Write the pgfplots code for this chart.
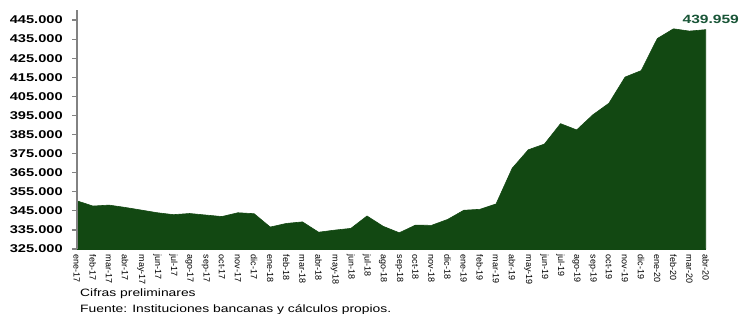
\documentclass[border=0pt]{standalone}
\usepackage{pgfplots}
\pgfplotsset{compat=1.18}
\usepackage{fontspec}
\setmainfont{Liberation Sans}
\newfontfamily\wideF[FakeStretch=1.3]{Liberation Sans}
\definecolor{areagreen}{RGB}{18,72,18}
\definecolor{labgreen}{RGB}{25,85,55}
\definecolor{axgray}{RGB}{130,130,130}
\begin{document}
\begin{tikzpicture}
\path[use as bounding box] (0,0) rectangle (742bp,314bp);
\begin{axis}[
  at={(76.7bp,65bp)}, anchor=south west,
  scale only axis, width=629bp, height=238.5bp,
  xmin=0, xmax=39, ymin=325000, ymax=450000,
  axis x line=bottom, axis y line=left,
  every outer x axis line/.style={color=areagreen, line width=0.6pt},
  every outer y axis line/.style={color=axgray, line width=1.4pt},
  clip=false,
  scaled y ticks=false,
  ytick={325000,335000,...,445000},
  xtick={0,...,39},
  xticklabels={ene-17,feb-17,mar-17,abr-17,may-17,jun-17,jul-17,ago-17,sep-17,oct-17,nov-17,dic-17,
               ene-18,feb-18,mar-18,abr-18,may-18,jun-18,jul-18,ago-18,sep-18,oct-18,nov-18,dic-18,
               ene-19,feb-19,mar-19,abr-19,may-19,jun-19,jul-19,ago-19,sep-19,oct-19,nov-19,dic-19,
               ene-20,feb-20,mar-20,abr-20},
  tick align=outside, major tick length=4.5bp,
  xtick style={color=white},
  ytick style={color=axgray, line width=1.1pt},
  yticklabel style={font=\wideF\bfseries\fontsize{11.3}{12}\selectfont, xshift=-6bp, text=black,
     /pgf/number format/.cd, fixed, precision=0, 1000 sep={.}, assume math mode=true},
  xticklabel style={rotate=-90, anchor=west, font=\fontsize{9}{10}\selectfont, inner sep=1bp, text=black},
]
\addplot[fill=areagreen, draw=areagreen, line width=0.6pt] table {
x y
0 350300
1 347500
2 348000
3 346800
4 345400
5 344000
6 343000
7 343600
8 342800
9 342000
10 344000
11 343500
12 336500
13 338400
14 339200
15 333800
16 334900
17 335800
18 342300
19 336900
20 333500
21 337500
22 337400
23 340500
24 345300
25 345800
26 348600
27 367300
28 377000
29 380000
30 390700
31 387400
32 395300
33 401400
34 415100
35 418500
36 435300
37 440400
38 439200
39 439959
} |- (rel axis cs:0,0) -- cycle;
\fill[fill=axgray] ([xshift=-0.9bp]rel axis cs:0,0) rectangle ([xshift=0.9bp]rel axis cs:0,1);
\pgfplotsinvokeforeach{325000,335000,345000,355000,365000,375000,385000,395000,405000,415000,425000,435000,445000}{
  \fill[fill=axgray] ([xshift=-5bp,yshift=-0.6bp]axis cs:0,#1) rectangle ([yshift=0.6bp]axis cs:0,#1);
}
\node[font=\wideF\bfseries\fontsize{12}{13}\selectfont, text=labgreen, anchor=base, inner sep=0pt, xshift=5bp, yshift=6bp] at (axis cs:39,439959) {439.959};
\end{axis}
\node[anchor=base west, inner sep=0pt, font=\wideF\fontsize{10.7}{12}\selectfont] at (80bp,17.3bp) {Cifras preliminares};
\node[anchor=base west, inner sep=0pt, font=\wideF\fontsize{10.7}{12}\selectfont] at (80bp,1.3bp) {Fuente: Instituciones bancanas y cálculos propios.};
\end{tikzpicture}
\end{document}
